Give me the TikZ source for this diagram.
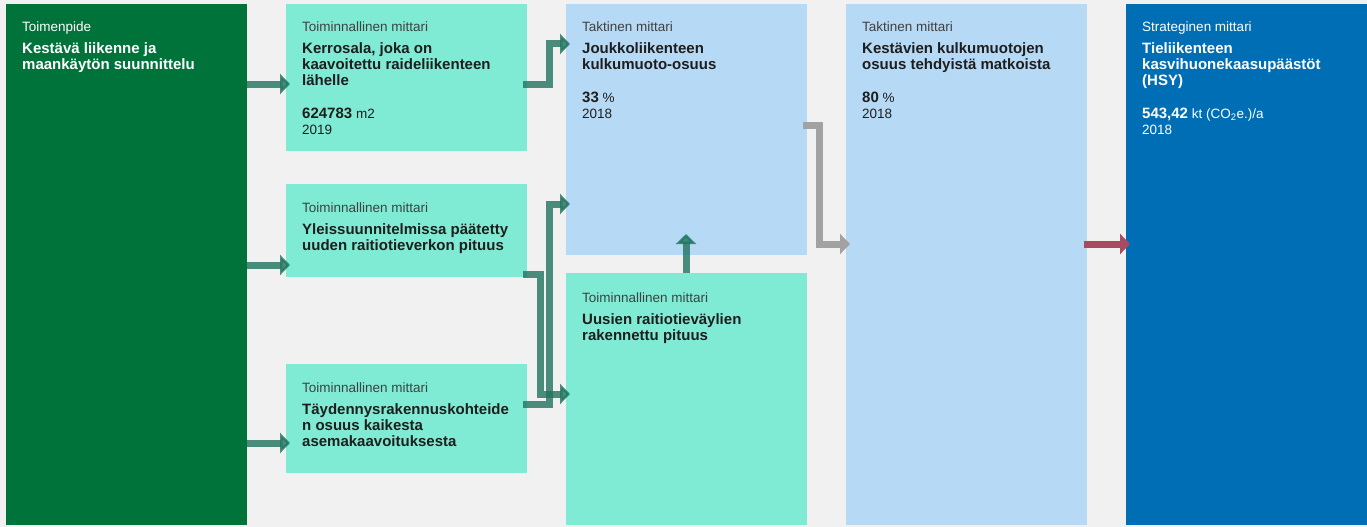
\documentclass[tikz,border=0pt]{standalone}
\usepackage{fontspec}
\setmainfont{Liberation Sans}
\usetikzlibrary{arrows.meta,calc}
\definecolor{bgc}{HTML}{F1F1F1}
\definecolor{dgreen}{HTML}{00733A}
\definecolor{mintbox}{HTML}{80EBD4}
\definecolor{lblue}{HTML}{B6DAF5}
\definecolor{sblue}{HTML}{006EB4}
\definecolor{arrteal}{HTML}{20735F}
\definecolor{arrgray}{HTML}{A2A2A2}
\definecolor{arrred}{HTML}{A84B60}
\definecolor{ink}{HTML}{1E1E1E}
\newcommand{\mlines}[1]{\parbox[t]{230pt}{\raggedright #1}}
\newcommand{\bignum}[1]{{\fontsize{15}{16}\selectfont\bfseries #1}}
\tikzset{
  box/.style={rectangle, anchor=north west, inner sep=0pt, outer sep=0pt, minimum width=241pt, draw=none},
  lbl/.style={anchor=base west, inner sep=0pt, font=\fontsize{13.5}{16}\selectfont, text=ink!85},
  ttl/.style={anchor=base west, inner sep=0pt, font=\fontsize{15}{16}\selectfont\bfseries, text=ink},
  val/.style={anchor=base west, inner sep=0pt, font=\fontsize{13.5}{16}\selectfont, text=ink},
  onDark/.style={text=white},
  arrbase/.style={line width=7pt, -{Triangle[length=10pt,width=20pt]}},
  arr/.style={arrbase, draw=arrteal, opacity=0.8},
  arrg/.style={arrbase, draw=arrgray},
  arrr/.style={arrbase, draw=arrred},
}
\begin{document}
\begin{tikzpicture}[x=1pt, y=-1pt]
\fill[bgc] (0,0) rectangle (1367,527);
\useasboundingbox (0,0) rectangle (1367,527);

% boxes
\node[box, fill=dgreen, minimum height=521pt] (act) at (6,4) {};
\node[box, fill=mintbox, minimum height=147pt] (A) at (286,4) {};
\node[box, fill=mintbox, minimum height=93pt] (B) at (286,184) {};
\node[box, fill=mintbox, minimum height=109pt] (C) at (286,364) {};
\node[box, fill=lblue, minimum height=251pt] (D) at (566,4) {};
\node[box, fill=mintbox, minimum height=252pt] (E) at (566,273) {};
\node[box, fill=lblue, minimum height=521pt] (F) at (846,4) {};
\node[box, fill=sblue, minimum height=521pt] (G) at (1126,4) {};

% texts
\node[lbl, onDark] (actl) at (22,32) {Toimenpide};
\node[ttl, onDark] (actt) at (22,54) {\mlines{Kestävä liikenne ja\\maankäytön suunnittelu}};

\node[lbl] (Al) at (302,32) {Toiminnallinen mittari};
\node[ttl] (At) at (302,54) {\mlines{Kerrosala, joka on\\kaavoitettu raideliikenteen\\lähelle}};
\node[val] (Av) at (302,118) {\mlines{\bignum{624783} m2\\2019}};

\node[lbl] (Bl) at (302,212) {Toiminnallinen mittari};
\node[ttl] (Bt) at (302,234) {\mlines{Yleissuunnitelmissa päätetty\\uuden raitiotieverkon pituus}};

\node[lbl] (Cl) at (302,392) {Toiminnallinen mittari};
\node[ttl] (Ct) at (302,414) {\mlines{Täydennysrakennuskohteide\\n osuus kaikesta\\asemakaavoituksesta}};

\node[lbl] (Dl) at (582,32) {Taktinen mittari};
\node[ttl] (Dt) at (582,54) {\mlines{Joukkoliikenteen\\kulkumuoto-osuus}};
\node[val] (Dv) at (582,102) {\mlines{\bignum{33} \%\\2018}};

\node[lbl] (El) at (582,302) {Toiminnallinen mittari};
\node[ttl] (Et) at (582,324) {\mlines{Uusien raitiotieväylien\\rakennettu pituus}};

\node[lbl] (Fl) at (862,32) {Taktinen mittari};
\node[ttl] (Ft) at (862,54) {\mlines{Kestävien kulkumuotojen\\osuus tehdyistä matkoista}};
\node[val] (Fv) at (862,102) {\mlines{\bignum{80} \%\\2018}};

\node[lbl, onDark] (Gl) at (1142,32) {Strateginen mittari};
\node[ttl, onDark] (Gt) at (1142,54) {\mlines{Tieliikenteen\\kasvihuonekaasupäästöt\\(HSY)}};
\node[val, onDark] (Gv) at (1142,118) {\mlines{\bignum{543,42} kt (CO\textsubscript{2}e.)/a\\2018}};

% connectors
\draw[arr] (act.east |- 0,84) -- ([xshift=4pt]A.west |- 0,84);
\draw[arr] (act.east |- 0,265) -- ([xshift=4pt]B.west |- 0,265);
\draw[arr] (act.east |- 0,443) -- ([xshift=4pt]C.west |- 0,443);

\draw[arr] ([xshift=-4pt]A.east |- 0,84) -| (549,44) -- ([xshift=4pt]D.west |- 0,44);
\draw[arr] ([xshift=-4pt]B.east |- 0,274) -| (540,394) -- ([xshift=4pt]E.west |- 0,394);
\draw[arr] ([xshift=-4pt]C.east |- 0,404) -| (549.5,204) -- ([xshift=4pt]D.west |- 0,204);
\draw[arr] (E.north -| 686,0) -- (686,234);

\draw[arrg] ([xshift=-4pt]D.east |- 0,125) -| (819.5,244) -- ([xshift=4pt]F.west |- 0,244);
\draw[arrr] ([xshift=-3pt]F.east |- 0,244) -- ([xshift=4pt]G.west |- 0,244);
\end{tikzpicture}
\end{document}
